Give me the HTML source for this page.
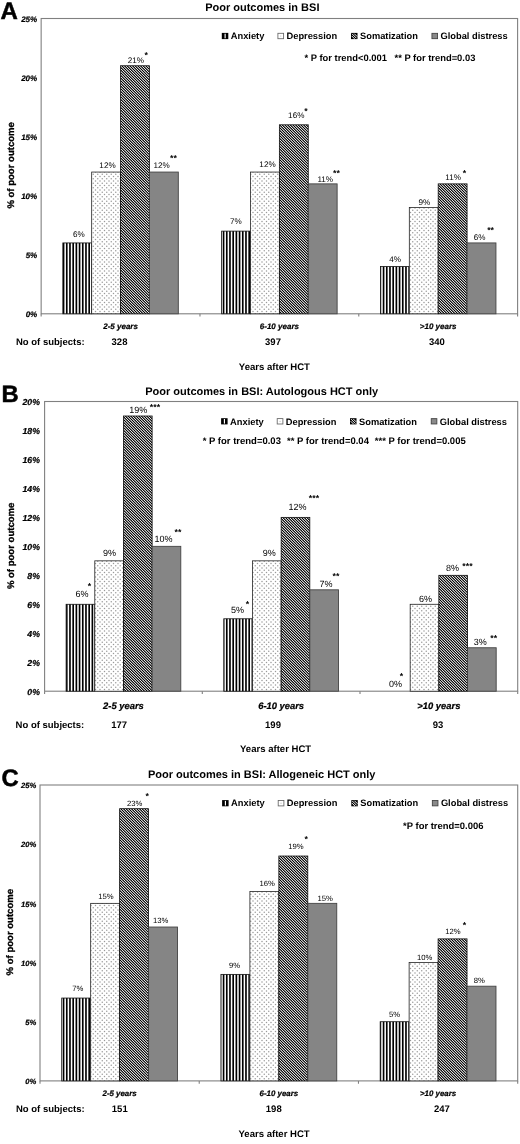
<!DOCTYPE html>
<html><head><meta charset="utf-8"><title>Poor outcomes in BSI</title>
<style>html,body{margin:0;padding:0;background:#fff}svg{display:block;will-change:transform;filter:grayscale(1) blur(0.35px)}text{font-family:"Liberation Sans",sans-serif;fill:#000;text-rendering:geometricPrecision}.b{font-weight:bold}.bi{font-weight:bold;font-style:italic;stroke:#000;stroke-width:0.22px}.yt{stroke:#000;stroke-width:0.3px}</style></head><body>
<svg width="520" height="1144" viewBox="0 0 520 1144">
<defs>
<pattern id="pv" width="16" height="16" patternUnits="userSpaceOnUse"><rect width="16" height="16" fill="#fff"/><g fill="#000"><rect x="-1.25" width="1.65" height="16"/><rect x="1.95" width="1.65" height="16"/><rect x="5.15" width="1.65" height="16"/><rect x="8.35" width="1.65" height="16"/><rect x="11.55" width="1.65" height="16"/><rect x="14.75" width="1.65" height="16"/></g></pattern>
<pattern id="pd" width="9" height="9" patternUnits="userSpaceOnUse"><rect width="9" height="9" fill="#fff"/><g fill="#999"><circle cx="1" cy="1" r="0.72"/><circle cx="3.25" cy="3.25" r="0.72"/><circle cx="5.5" cy="1" r="0.72"/><circle cx="7.75" cy="3.25" r="0.72"/><circle cx="1" cy="5.5" r="0.72"/><circle cx="3.25" cy="7.75" r="0.72"/><circle cx="5.5" cy="5.5" r="0.72"/><circle cx="7.75" cy="7.75" r="0.72"/></g></pattern>
<pattern id="ps" width="8" height="8" patternUnits="userSpaceOnUse" shape-rendering="crispEdges"><path fill="#000000" d="M0 0h1v1h-1zM1 1h1v1h-1zM2 2h1v1h-1zM3 3h1v1h-1zM4 4h1v1h-1zM5 5h1v1h-1zM6 6h1v1h-1zM7 7h1v1h-1z"/><path fill="#c6c6c6" d="M1 0h1v1h-1zM2 1h1v1h-1zM3 2h1v1h-1zM4 3h1v1h-1zM5 4h1v1h-1zM6 5h1v1h-1zM7 6h1v1h-1zM0 7h1v1h-1z"/><path fill="#6e6e6e" d="M2 0h1v1h-1zM3 1h1v1h-1zM4 2h1v1h-1zM5 3h1v1h-1zM6 4h1v1h-1zM7 5h1v1h-1zM0 6h1v1h-1zM1 7h1v1h-1z"/><path fill="#161616" d="M3 0h1v1h-1zM4 1h1v1h-1zM5 2h1v1h-1zM6 3h1v1h-1zM7 4h1v1h-1zM0 5h1v1h-1zM1 6h1v1h-1zM2 7h1v1h-1z"/><path fill="#ebebeb" d="M4 0h1v1h-1zM5 1h1v1h-1zM6 2h1v1h-1zM7 3h1v1h-1zM0 4h1v1h-1zM1 5h1v1h-1zM2 6h1v1h-1zM3 7h1v1h-1z"/><path fill="#161616" d="M5 0h1v1h-1zM6 1h1v1h-1zM7 2h1v1h-1zM0 3h1v1h-1zM1 4h1v1h-1zM2 5h1v1h-1zM3 6h1v1h-1zM4 7h1v1h-1z"/><path fill="#6e6e6e" d="M6 0h1v1h-1zM7 1h1v1h-1zM0 2h1v1h-1zM1 3h1v1h-1zM2 4h1v1h-1zM3 5h1v1h-1zM4 6h1v1h-1zM5 7h1v1h-1z"/><path fill="#c6c6c6" d="M7 0h1v1h-1zM0 1h1v1h-1zM1 2h1v1h-1zM2 3h1v1h-1zM3 4h1v1h-1zM4 5h1v1h-1zM5 6h1v1h-1zM6 7h1v1h-1z"/></pattern>
</defs>
<rect width="520" height="1144" fill="#fff"/>
<!-- panel A -->
<rect x="41.15" y="18.5" width="476.45" height="295.3" fill="#fff" stroke="#808080" stroke-width="1.1"/>
<text class="b" x="0.5" y="19" font-size="24" stroke="#000" stroke-width="0.5">A</text>
<text class="b" x="262.3" y="10.8" font-size="11" text-anchor="middle">Poor outcomes in BSI</text>
<text class="bi" x="37.2" y="316.96" font-size="8" text-anchor="end">0%</text>
<text class="bi" x="37.2" y="257.9" font-size="8" text-anchor="end">5%</text>
<text class="bi" x="37.2" y="198.84" font-size="8" text-anchor="end">10%</text>
<text class="bi" x="37.2" y="139.78" font-size="8" text-anchor="end">15%</text>
<text class="bi" x="37.2" y="80.72" font-size="8" text-anchor="end">20%</text>
<text class="bi" x="37.2" y="21.66" font-size="8" text-anchor="end">25%</text>
<path d="M41.15 313.8v2.8M199.97 313.8v2.8M358.78 313.8v2.8M517.6 313.8v2.8" stroke="#808080" stroke-width="1.1" fill="none"/>
<rect x="62.81" y="242.93" width="28.88" height="70.87" fill="url(#pv)" stroke="#111" stroke-width="0.8"/>
<text x="78.9" y="236.5" font-size="8.15" text-anchor="middle">6%</text>
<rect x="91.68" y="172.06" width="28.88" height="141.74" fill="url(#pd)" stroke="#222" stroke-width="0.8"/>
<text x="107.5" y="168" font-size="8.15" text-anchor="middle">12%</text>
<rect x="120.56" y="65.75" width="28.88" height="248.05" fill="url(#ps)" stroke="#111" stroke-width="0.8"/>
<text x="135.9" y="63.1" font-size="8.15" text-anchor="middle">21%</text>
<rect x="149.43" y="172.06" width="28.88" height="141.74" fill="#858585" stroke="#444" stroke-width="0.9"/>
<text x="161.6" y="168" font-size="8.15" text-anchor="middle">12%</text>
<text class="bi" x="120.56" y="328.78" font-size="8" text-anchor="middle">2-5 years</text>
<text class="b" x="119.5" y="345.3" font-size="9.5" text-anchor="middle">328</text>
<rect x="221.62" y="231.12" width="28.88" height="82.68" fill="url(#pv)" stroke="#111" stroke-width="0.8"/>
<text x="235.9" y="224.1" font-size="8.15" text-anchor="middle">7%</text>
<rect x="250.5" y="172.06" width="28.88" height="141.74" fill="url(#pd)" stroke="#222" stroke-width="0.8"/>
<text x="267.5" y="167.4" font-size="8.15" text-anchor="middle">12%</text>
<rect x="279.38" y="124.81" width="28.88" height="188.99" fill="url(#ps)" stroke="#111" stroke-width="0.8"/>
<text x="296.25" y="118.1" font-size="8.15" text-anchor="middle">16%</text>
<rect x="308.25" y="183.87" width="28.88" height="129.93" fill="#858585" stroke="#444" stroke-width="0.9"/>
<text x="325.25" y="181.7" font-size="8.15" text-anchor="middle">11%</text>
<text class="bi" x="279.38" y="328.78" font-size="8" text-anchor="middle">6-10 years</text>
<text class="b" x="273" y="345.3" font-size="9.5" text-anchor="middle">397</text>
<rect x="380.44" y="266.55" width="28.88" height="47.25" fill="url(#pv)" stroke="#111" stroke-width="0.8"/>
<text x="395" y="262.1" font-size="8.15" text-anchor="middle">4%</text>
<rect x="409.32" y="207.49" width="28.88" height="106.31" fill="url(#pd)" stroke="#222" stroke-width="0.8"/>
<text x="424.4" y="205.4" font-size="8.15" text-anchor="middle">9%</text>
<rect x="438.19" y="183.87" width="28.88" height="129.93" fill="url(#ps)" stroke="#111" stroke-width="0.8"/>
<text x="453.1" y="179.9" font-size="8.15" text-anchor="middle">11%</text>
<rect x="467.07" y="242.93" width="28.88" height="70.87" fill="#858585" stroke="#444" stroke-width="0.9"/>
<text x="479.6" y="239.9" font-size="8.15" text-anchor="middle">6%</text>
<text class="bi" x="438.19" y="328.78" font-size="8" text-anchor="middle">&gt;10 years</text>
<text class="b" x="436.9" y="345.3" font-size="9.5" text-anchor="middle">340</text>
<text class="b" x="146.3" y="57.82" font-size="8.8" text-anchor="middle">*</text>
<text class="b" x="173.5" y="161.12" font-size="8.8" text-anchor="middle">**</text>
<text class="b" x="306" y="114.32" font-size="8.8" text-anchor="middle">*</text>
<text class="b" x="336.4" y="175.57" font-size="8.8" text-anchor="middle">**</text>
<text class="b" x="464.5" y="175.57" font-size="8.8" text-anchor="middle">*</text>
<text class="b" x="490.6" y="233.07" font-size="8.8" text-anchor="middle">**</text>
<text class="b" x="16" y="345.3" font-size="9.5">No of subjects:</text>
<text class="b" x="274.4" y="369.6" font-size="9.55" text-anchor="middle">Years after HCT</text>
<text class="b yt" transform="translate(14.3,165.4) rotate(-90)" font-size="9.55" text-anchor="middle">% of poor outcome</text>
<rect x="221.8" y="32.9" width="6.5" height="6.2" fill="#000"/>
<rect x="224.55" y="33.7" width="1.15" height="4.6" fill="#fff"/>
<text class="b" x="230.8" y="39.2" font-size="9.3">Anxiety</text>
<rect x="277.9" y="33.3" width="5.7" height="5.4" fill="#fff" stroke="#666" stroke-width="0.85"/>
<circle cx="280.75" cy="36" r="0.6" fill="#bbb"/>
<text class="b" x="286.5" y="39.2" font-size="9.3">Depression</text>
<rect x="351" y="32.9" width="6.5" height="6.2" fill="#000"/>
<path d="M352 33.8l4.4 4.4M354.2 33.6l2.9 2.9M351.7 35.9l2.9 2.9" stroke="#fff" stroke-width="0.95" fill="none"/>
<text class="b" x="360" y="39.2" font-size="9.3">Somatization</text>
<rect x="431.95" y="33.35" width="5.6" height="5.3" fill="#8a8a8a" stroke="#444" stroke-width="0.9"/>
<text class="b" x="440.5" y="39.2" font-size="9.3">Global distress</text>
<text class="b" x="304.5" y="61.38" font-size="9.4">* P for trend&lt;0.001</text>
<text class="b" x="394.5" y="61.38" font-size="9.4">** P for trend=0.03</text>
<!-- panel B -->
<rect x="44.6" y="401.5" width="473.1" height="289.7" fill="#fff" stroke="#808080" stroke-width="1.1"/>
<text class="b" x="1.6" y="401.8" font-size="23.8" stroke="#000" stroke-width="0.5">B</text>
<text class="b" x="261.7" y="394.6" font-size="11" text-anchor="middle">Poor outcomes in BSI: Autologous HCT only</text>
<text class="bi" x="39.9" y="694.91" font-size="8.7" text-anchor="end">0%</text>
<text class="bi" x="39.9" y="665.94" font-size="8.7" text-anchor="end">2%</text>
<text class="bi" x="39.9" y="636.97" font-size="8.7" text-anchor="end">4%</text>
<text class="bi" x="39.9" y="608" font-size="8.7" text-anchor="end">6%</text>
<text class="bi" x="39.9" y="579.03" font-size="8.7" text-anchor="end">8%</text>
<text class="bi" x="39.9" y="550.06" font-size="8.7" text-anchor="end">10%</text>
<text class="bi" x="39.9" y="521.09" font-size="8.7" text-anchor="end">12%</text>
<text class="bi" x="39.9" y="492.12" font-size="8.7" text-anchor="end">14%</text>
<text class="bi" x="39.9" y="463.15" font-size="8.7" text-anchor="end">16%</text>
<text class="bi" x="39.9" y="434.18" font-size="8.7" text-anchor="end">18%</text>
<text class="bi" x="39.9" y="405.21" font-size="8.7" text-anchor="end">20%</text>
<path d="M44.6 691.2v2.8M202.3 691.2v2.8M360 691.2v2.8M517.7 691.2v2.8" stroke="#808080" stroke-width="1.1" fill="none"/>
<rect x="66.1" y="604.29" width="28.67" height="86.91" fill="url(#pv)" stroke="#111" stroke-width="0.8"/>
<text x="82.1" y="597.4" font-size="9" text-anchor="middle">6%</text>
<rect x="94.78" y="560.84" width="28.67" height="130.37" fill="url(#pd)" stroke="#222" stroke-width="0.8"/>
<text x="109.6" y="556.1" font-size="9" text-anchor="middle">9%</text>
<rect x="123.45" y="415.99" width="28.67" height="275.22" fill="url(#ps)" stroke="#111" stroke-width="0.8"/>
<text x="138.25" y="412.9" font-size="9" text-anchor="middle">19%</text>
<rect x="152.12" y="546.35" width="28.67" height="144.85" fill="#858585" stroke="#444" stroke-width="0.9"/>
<text x="163.5" y="541.9" font-size="9" text-anchor="middle">10%</text>
<text class="bi" x="123.45" y="709.48" font-size="9.4" text-anchor="middle">2-5 years</text>
<text class="b" x="119.1" y="728.4" font-size="9.5" text-anchor="middle">177</text>
<rect x="223.8" y="618.78" width="28.67" height="72.42" fill="url(#pv)" stroke="#111" stroke-width="0.8"/>
<text x="237.6" y="612.5" font-size="9" text-anchor="middle">5%</text>
<rect x="252.48" y="560.84" width="28.67" height="130.37" fill="url(#pd)" stroke="#222" stroke-width="0.8"/>
<text x="269.25" y="556.1" font-size="9" text-anchor="middle">9%</text>
<rect x="281.15" y="517.38" width="28.67" height="173.82" fill="url(#ps)" stroke="#111" stroke-width="0.8"/>
<text x="297.5" y="510.4" font-size="9" text-anchor="middle">12%</text>
<rect x="309.82" y="589.81" width="28.67" height="101.39" fill="#858585" stroke="#444" stroke-width="0.9"/>
<text x="326.1" y="587.4" font-size="9" text-anchor="middle">7%</text>
<text class="bi" x="281.15" y="709.48" font-size="9.4" text-anchor="middle">6-10 years</text>
<text class="b" x="273" y="728.4" font-size="9.5" text-anchor="middle">199</text>
<text x="395.6" y="687.1" font-size="9" text-anchor="middle">0%</text>
<rect x="410.18" y="604.29" width="28.67" height="86.91" fill="url(#pd)" stroke="#222" stroke-width="0.8"/>
<text x="425.4" y="601.9" font-size="9" text-anchor="middle">6%</text>
<rect x="438.85" y="575.32" width="28.67" height="115.88" fill="url(#ps)" stroke="#111" stroke-width="0.8"/>
<text x="452.5" y="571.1" font-size="9" text-anchor="middle">8%</text>
<rect x="467.52" y="647.75" width="28.67" height="43.46" fill="#858585" stroke="#444" stroke-width="0.9"/>
<text x="480.25" y="644.9" font-size="9" text-anchor="middle">3%</text>
<text class="bi" x="438.85" y="709.48" font-size="9.4" text-anchor="middle">&gt;10 years</text>
<text class="b" x="438.1" y="728.4" font-size="9.5" text-anchor="middle">93</text>
<text class="b" x="89.5" y="588.57" font-size="8.8" text-anchor="middle">*</text>
<text class="b" x="155" y="409.82" font-size="8.8" text-anchor="middle">***</text>
<text class="b" x="177.9" y="534.82" font-size="8.8" text-anchor="middle">**</text>
<text class="b" x="247.5" y="607.22" font-size="8.8" text-anchor="middle">*</text>
<text class="b" x="314" y="501.32" font-size="8.8" text-anchor="middle">***</text>
<text class="b" x="335.9" y="578.82" font-size="8.8" text-anchor="middle">**</text>
<text class="b" x="401.4" y="679.32" font-size="8.8" text-anchor="middle">*</text>
<text class="b" x="467.5" y="568.82" font-size="8.8" text-anchor="middle">***</text>
<text class="b" x="493.75" y="640.57" font-size="8.8" text-anchor="middle">**</text>
<text class="b" x="15.6" y="728.4" font-size="9.5">No of subjects:</text>
<text class="b" x="275.6" y="751.7" font-size="9.55" text-anchor="middle">Years after HCT</text>
<text class="b yt" transform="translate(14.3,545.9) rotate(-90)" font-size="9.55" text-anchor="middle">% of poor outcome</text>
<rect x="221.1" y="418.2" width="6.5" height="6.2" fill="#000"/>
<rect x="223.85" y="419" width="1.15" height="4.6" fill="#fff"/>
<text class="b" x="230.1" y="424.5" font-size="9.3">Anxiety</text>
<rect x="277.2" y="418.6" width="5.7" height="5.4" fill="#fff" stroke="#666" stroke-width="0.85"/>
<circle cx="280.05" cy="421.3" r="0.6" fill="#bbb"/>
<text class="b" x="285.8" y="424.5" font-size="9.3">Depression</text>
<rect x="350" y="418.2" width="6.5" height="6.2" fill="#000"/>
<path d="M351 419.1l4.4 4.4M353.2 418.9l2.9 2.9M350.7 421.2l2.9 2.9" stroke="#fff" stroke-width="0.95" fill="none"/>
<text class="b" x="359" y="424.5" font-size="9.3">Somatization</text>
<rect x="431.25" y="418.65" width="5.6" height="5.3" fill="#8a8a8a" stroke="#444" stroke-width="0.9"/>
<text class="b" x="439.8" y="424.5" font-size="9.3">Global distress</text>
<text class="b" x="202.7" y="444.32" font-size="9.5">* P for trend=0.03</text>
<text class="b" x="287" y="444.32" font-size="9.5">** P for trend=0.04</text>
<text class="b" x="374.8" y="444.32" font-size="9.5">*** P for trend=0.005</text>
<!-- panel C -->
<rect x="40" y="785" width="477.7" height="295.9" fill="#fff" stroke="#808080" stroke-width="1.1"/>
<text class="b" x="1.5" y="785.8" font-size="23.8" stroke="#000" stroke-width="0.5">C</text>
<text class="b" x="261.7" y="778.3" font-size="11" text-anchor="middle">Poor outcomes in BSI: Allogeneic HCT only</text>
<text class="bi" x="36.2" y="1084.12" font-size="7.6" text-anchor="end">0%</text>
<text class="bi" x="36.2" y="1024.94" font-size="7.6" text-anchor="end">5%</text>
<text class="bi" x="36.2" y="965.76" font-size="7.6" text-anchor="end">10%</text>
<text class="bi" x="36.2" y="906.58" font-size="7.6" text-anchor="end">15%</text>
<text class="bi" x="36.2" y="847.4" font-size="7.6" text-anchor="end">20%</text>
<text class="bi" x="36.2" y="788.22" font-size="7.6" text-anchor="end">25%</text>
<path d="M40 1080.9v2.8M199.23 1080.9v2.8M358.47 1080.9v2.8M517.7 1080.9v2.8" stroke="#808080" stroke-width="1.1" fill="none"/>
<rect x="61.71" y="998.05" width="28.95" height="82.85" fill="url(#pv)" stroke="#111" stroke-width="0.8"/>
<text x="77.9" y="991.1" font-size="7.7" text-anchor="middle">7%</text>
<rect x="90.67" y="903.36" width="28.95" height="177.54" fill="url(#pd)" stroke="#222" stroke-width="0.8"/>
<text x="106" y="899.1" font-size="7.7" text-anchor="middle">15%</text>
<rect x="119.62" y="808.67" width="28.95" height="272.23" fill="url(#ps)" stroke="#111" stroke-width="0.8"/>
<text x="134.75" y="806.1" font-size="7.7" text-anchor="middle">23%</text>
<rect x="148.57" y="927.03" width="28.95" height="153.87" fill="#858585" stroke="#444" stroke-width="0.9"/>
<text x="160.75" y="922.9" font-size="7.7" text-anchor="middle">13%</text>
<text class="bi" x="119.62" y="1095.84" font-size="7.9" text-anchor="middle">2-5 years</text>
<text class="b" x="119.75" y="1112.4" font-size="9.5" text-anchor="middle">151</text>
<rect x="220.95" y="974.38" width="28.95" height="106.52" fill="url(#pv)" stroke="#111" stroke-width="0.8"/>
<text x="234.5" y="967.6" font-size="7.7" text-anchor="middle">9%</text>
<rect x="249.9" y="891.52" width="28.95" height="189.38" fill="url(#pd)" stroke="#222" stroke-width="0.8"/>
<text x="267.25" y="886.1" font-size="7.7" text-anchor="middle">16%</text>
<rect x="278.85" y="856.02" width="28.95" height="224.88" fill="url(#ps)" stroke="#111" stroke-width="0.8"/>
<text x="296" y="849.1" font-size="7.7" text-anchor="middle">19%</text>
<rect x="307.8" y="903.36" width="28.95" height="177.54" fill="#858585" stroke="#444" stroke-width="0.9"/>
<text x="325.25" y="901.1" font-size="7.7" text-anchor="middle">15%</text>
<text class="bi" x="278.85" y="1095.84" font-size="7.9" text-anchor="middle">6-10 years</text>
<text class="b" x="273.75" y="1112.4" font-size="9.5" text-anchor="middle">198</text>
<rect x="380.18" y="1021.72" width="28.95" height="59.18" fill="url(#pv)" stroke="#111" stroke-width="0.8"/>
<text x="394.6" y="1017.4" font-size="7.7" text-anchor="middle">5%</text>
<rect x="409.13" y="962.54" width="28.95" height="118.36" fill="url(#pd)" stroke="#222" stroke-width="0.8"/>
<text x="424.75" y="960.4" font-size="7.7" text-anchor="middle">10%</text>
<rect x="438.08" y="938.87" width="28.95" height="142.03" fill="url(#ps)" stroke="#111" stroke-width="0.8"/>
<text x="452.9" y="934.4" font-size="7.7" text-anchor="middle">12%</text>
<rect x="467.03" y="986.21" width="28.95" height="94.69" fill="#858585" stroke="#444" stroke-width="0.9"/>
<text x="479.4" y="983.1" font-size="7.7" text-anchor="middle">8%</text>
<text class="bi" x="438.08" y="1095.84" font-size="7.9" text-anchor="middle">&gt;10 years</text>
<text class="b" x="441.9" y="1112.4" font-size="9.5" text-anchor="middle">247</text>
<text class="b" x="147.25" y="798.82" font-size="8.8" text-anchor="middle">*</text>
<text class="b" x="306.25" y="842.32" font-size="8.8" text-anchor="middle">*</text>
<text class="b" x="464.4" y="928.07" font-size="8.8" text-anchor="middle">*</text>
<text class="b" x="16" y="1112.4" font-size="9.5">No of subjects:</text>
<text class="b" x="274.1" y="1136.9" font-size="9.55" text-anchor="middle">Years after HCT</text>
<text class="b yt" transform="translate(13,932.2) rotate(-90)" font-size="9.55" text-anchor="middle">% of poor outcome</text>
<rect x="222.1" y="800.1" width="6.5" height="6.2" fill="#000"/>
<rect x="224.85" y="800.9" width="1.15" height="4.6" fill="#fff"/>
<text class="b" x="231.1" y="806.3" font-size="9.3">Anxiety</text>
<rect x="278.2" y="800.5" width="5.7" height="5.4" fill="#fff" stroke="#666" stroke-width="0.85"/>
<circle cx="281.05" cy="803.2" r="0.6" fill="#bbb"/>
<text class="b" x="286.8" y="806.3" font-size="9.3">Depression</text>
<rect x="351.3" y="800.1" width="6.5" height="6.2" fill="#000"/>
<path d="M352.3 801l4.4 4.4M354.5 800.8l2.9 2.9M352 803.1l2.9 2.9" stroke="#fff" stroke-width="0.95" fill="none"/>
<text class="b" x="360.3" y="806.3" font-size="9.3">Somatization</text>
<rect x="432.35" y="800.55" width="5.6" height="5.3" fill="#8a8a8a" stroke="#444" stroke-width="0.9"/>
<text class="b" x="440.9" y="806.3" font-size="9.3">Global distress</text>
<text class="b" x="403.1" y="829.2" font-size="9.45">*P for trend=0.006</text>
</svg>
</body></html>
